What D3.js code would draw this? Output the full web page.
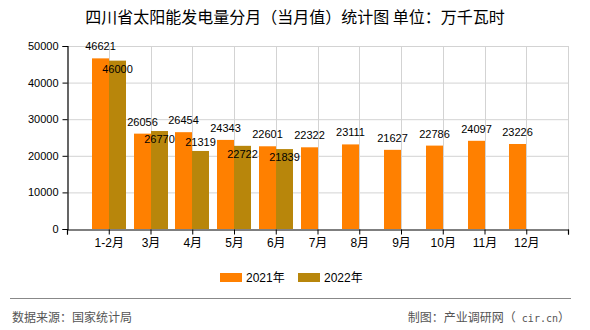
<!DOCTYPE html>
<html><head><meta charset="utf-8">
<script src="https://cdn.jsdelivr.net/npm/d3@7"></script>
<style>
html,body{margin:0;padding:0;background:#fff;}
svg{display:block;}
</style></head>
<body>
<svg id="chart" width="590" height="330"></svg>
<script>
const title = "四川省太阳能发电量分月（当月值）统计图 单位：万千瓦时";
const categories = ["1-2月","3月","4月","5月","6月","7月","8月","9月","10月","11月","12月"];
const series2021 = [46621,26056,26454,24343,22601,22322,23111,21627,22786,24097,23226];
const series2022 = [46000,26770,21319,22722,21839,null,null,null,null,null,null];
const seriesNames = ["2021年","2022年"];
const seriesColors = ["#FF8000","#B8860B"];
const yTicks = [0,10000,20000,30000,40000,50000];
const sourceText = "数据来源：国家统计局";
const creditParts = ["制图：产业调研网（", "cir.cn", "）"];

const svg = d3.select("#chart");
const L = 67, R = 568, T = 46, B = 229;
const numFont = "'Liberation Sans', Arial, sans-serif";
const cjkFont = "'Liberation Sans', 'Noto Sans CJK SC', sans-serif";

const slots = ["__s", ...categories, "__e"];
const x = d3.scalePoint().domain(slots).range([L, R]);
const y = d3.scaleLinear().domain([0, 50000]).range([B, T]);
const bw = 17;

// title
svg.append("text").attr("x", 295).attr("y", 23).attr("text-anchor","middle")
  .attr("font-family","'Noto Sans CJK SC', sans-serif").attr("font-size",16).attr("fill","#000")
  .text(title);

// grid
const g = svg.append("g");
g.selectAll("line.h").data(yTicks.filter(d=>d>0)).join("line")
  .attr("x1", L).attr("x2", R).attr("y1", d=>y(d)+0.5).attr("y2", d=>y(d)+0.5)
  .attr("stroke","#d3d3d3").attr("stroke-width",1);
g.selectAll("line.v").data(slots.slice(1)).join("line")
  .attr("x1", d=>Math.round(x(d))+0.5).attr("x2", d=>Math.round(x(d))+0.5)
  .attr("y1", T).attr("y2", B).attr("stroke","#d3d3d3").attr("stroke-width",1);

// bars
const bars = svg.append("g");
categories.forEach((c,i)=>{
  const cx = Math.round(x(c));
  bars.append("rect").attr("x", cx-bw).attr("width", bw)
    .attr("y", y(series2021[i])).attr("height", B - y(series2021[i])).attr("fill", seriesColors[0]);
  if (series2022[i] != null) {
    bars.append("rect").attr("x", cx).attr("width", bw)
      .attr("y", y(series2022[i])).attr("height", B - y(series2022[i])).attr("fill", seriesColors[1]);
  }
});

// axes
const yAxis = d3.axisLeft(y).tickValues(yTicks).tickSize(5).tickPadding(4).tickFormat(d3.format("d"));
const ya = svg.append("g").attr("transform",`translate(${L+0.5},0)`).call(yAxis);
ya.select(".domain").attr("stroke","#000");
ya.selectAll("text").attr("font-family",numFont).attr("font-size",11).attr("fill","#000");

const xAxis = d3.axisBottom(x).tickSize(5).tickPadding(4)
  .tickFormat(d => d.startsWith("__") ? "" : d);
const xa = svg.append("g").attr("transform",`translate(0,${B+0.5})`).call(xAxis);
xa.select(".domain").attr("stroke","#000");
xa.selectAll(".tick line").attr("stroke","#000");
xa.selectAll("text").attr("font-family",cjkFont).attr("font-size",12).attr("fill","#000");
svg.selectAll(".domain").attr("stroke-width",1.2);

// value labels
const lab = svg.append("g").attr("font-family",numFont).attr("font-size",11).attr("fill","#000").attr("text-anchor","middle");
categories.forEach((c,i)=>{
  const cx = Math.round(x(c));
  const b1 = y(series2021[i]) - 8;
  lab.append("text").attr("x", cx - bw/2).attr("y", b1).text(series2021[i]);
  if (series2022[i] != null) {
    const top2 = y(series2022[i]);
    let b2 = top2 - 5;
    if (b2 - 8 < b1 + 2) b2 = top2 + 12;
    lab.append("text").attr("x", cx + bw/2).attr("y", b2).text(series2022[i]);
  }
});

// legend
const leg = svg.append("g");
const legX = [220, 298];
seriesNames.forEach((n,i)=>{
  leg.append("rect").attr("x", legX[i]).attr("y", 273).attr("width",22).attr("height",9).attr("fill",seriesColors[i]);
  leg.append("text").attr("x", legX[i]+26).attr("y", 282).attr("font-family",cjkFont).attr("font-size",12)
    .attr("fill","#000").text(n);
});

// footer
svg.append("line").attr("x1",10).attr("x2",571).attr("y1",298.5).attr("y2",298.5).attr("stroke","#888").attr("stroke-width",1);
svg.append("text").attr("x",12).attr("y",322).attr("font-family","'Noto Sans CJK SC', sans-serif")
  .attr("font-size",12).attr("fill","#555").text(sourceText);
const ct = svg.append("text").attr("x",570).attr("y",322).attr("text-anchor","end")
  .attr("font-family","'Noto Sans CJK SC', sans-serif").attr("font-size",12).attr("fill","#555");
ct.append("tspan").text(creditParts[0]);
ct.append("tspan").attr("font-family","'DejaVu Sans Mono', monospace").attr("font-size",10).text(" " + creditParts[1]);
ct.append("tspan").text(creditParts[2]);
</script>
</body></html>
